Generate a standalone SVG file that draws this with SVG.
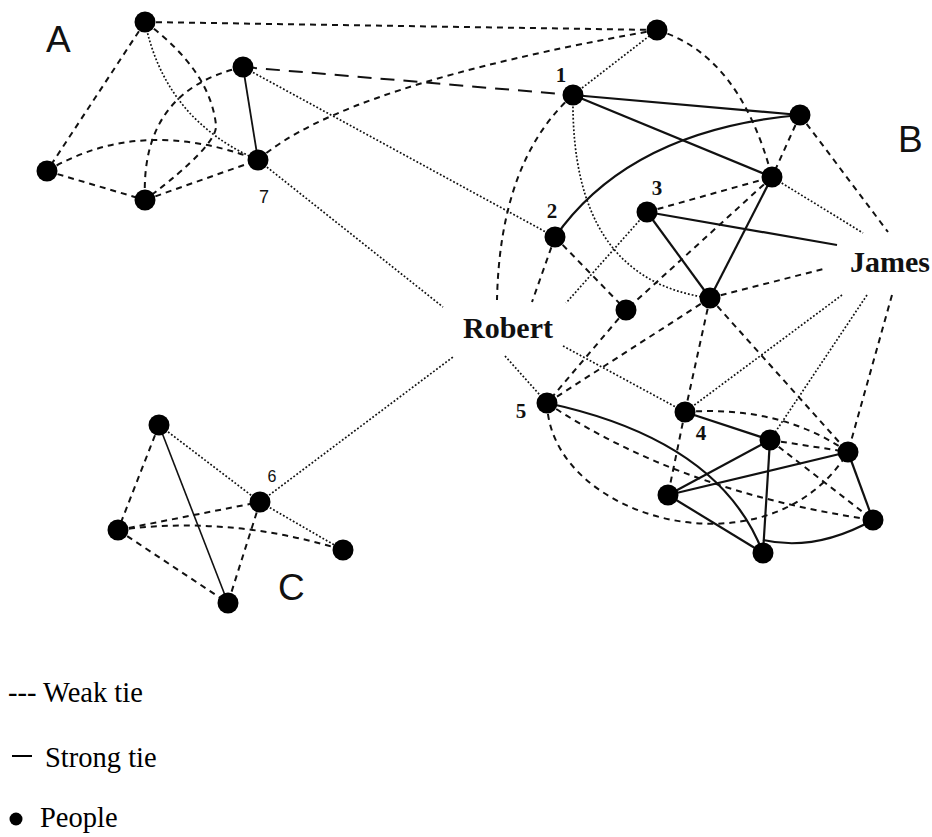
<svg xmlns="http://www.w3.org/2000/svg" width="932" height="837" viewBox="0 0 932 837">
  <style>
    .w { fill: none; stroke: #111; stroke-width: 2; stroke-dasharray: 6 5; }
    .s { fill: none; stroke: #111; stroke-width: 2.2; }
    .d { fill: none; stroke: #111; stroke-width: 1.7; stroke-dasharray: 1.8 2; }
    .l { fill: none; stroke: #111; stroke-width: 2; stroke-dasharray: 14 9; }
    .node circle { fill: #000; }
    .num { font-family: "Liberation Serif", "Times New Roman", serif; font-weight: bold; font-size: 21px; text-anchor: middle; fill: #111; }
    .numsans { font-family: "Liberation Sans", Arial, sans-serif; font-size: 18px; text-anchor: middle; fill: #111; }
    .name { font-family: "Liberation Serif", "Times New Roman", serif; font-weight: bold; font-size: 30px; fill: #111; }
    .group { font-family: "Liberation Sans", Arial, sans-serif; font-size: 37px; fill: #111; }
    .legend { font-family: "Liberation Serif", "Times New Roman", serif; font-size: 28.5px; fill: #000; }
  </style>
  <rect width="932" height="837" fill="#fff"/>

  <!-- ties between people -->
  <g id="connectors">
    <!-- cluster A -->
    <line class="w" x1="145" y1="22" x2="47" y2="171"/>
    <line class="w" x1="145" y1="22" x2="657" y2="30"/>
    <path class="d" d="M145,22 Q165,120 258,160"/>
    <path class="w" d="M145,22 Q210,70 216,125 Q218,145 145,200"/>
    <path class="w" d="M243,67 Q140,90 145,200"/>
    <line class="s" x1="243" y1="67" x2="258" y2="160" style="stroke-width:1.8"/>
    <line class="l" x1="243" y1="67" x2="573" y2="95"/>
    <line class="d" x1="243" y1="67" x2="555" y2="237"/>
    <line class="w" x1="47" y1="171" x2="145" y2="200"/>
    <path class="w" d="M47,171 Q140,115 258,160"/>
    <line class="w" x1="145" y1="200" x2="258" y2="160"/>
    <path class="w" d="M258,160 Q343,85 657,30"/>
    <line class="d" x1="258" y1="160" x2="443" y2="307"/>

    <!-- cluster B, upper part -->
    <line class="d" x1="573" y1="95" x2="657" y2="30"/>
    <path class="w" d="M657,30 Q740,55 772,177"/>
    <line class="s" x1="573" y1="95" x2="800" y2="115"/>
    <line class="s" x1="573" y1="95" x2="772" y2="177"/>
    <path class="d" d="M573,95 Q570,280 710,298"/>
    <path class="w" d="M573,95 Q500,160 497,300"/>
    <path class="s" d="M555,237 Q630,130 800,115"/>
    <line class="w" x1="800" y1="115" x2="772" y2="177"/>
    <line class="w" x1="800" y1="115" x2="888" y2="232"/>
    <line class="d" x1="772" y1="177" x2="863" y2="233"/>
    <line class="s" x1="772" y1="177" x2="710" y2="298"/>
    <line class="w" x1="647" y1="212" x2="772" y2="177"/>
    <line class="w" x1="772" y1="177" x2="626" y2="310"/>
    <line class="s" x1="647" y1="212" x2="710" y2="298"/>
    <line class="s" x1="647" y1="212" x2="837" y2="245"/>
    <line class="d" x1="647" y1="212" x2="566" y2="303"/>
    <line class="w" x1="555" y1="237" x2="532" y2="302"/>
    <line class="w" x1="555" y1="237" x2="626" y2="310"/>
    <line class="w" x1="710" y1="298" x2="827" y2="268"/>
    <line class="w" x1="710" y1="298" x2="685" y2="412"/>
    <line class="w" x1="710" y1="298" x2="547" y2="403"/>
    <line class="w" x1="710" y1="298" x2="848" y2="452"/>
    <line class="w" x1="626" y1="310" x2="547" y2="403"/>

    <!-- ties reaching Robert and James -->
    <line class="d" x1="505" y1="356" x2="547" y2="403"/>
    <line class="d" x1="563" y1="346" x2="685" y2="412"/>
    <line class="d" x1="842" y1="295" x2="685" y2="412"/>
    <line class="d" x1="867" y1="295" x2="770" y2="440"/>
    <line class="w" x1="892" y1="295" x2="848" y2="452"/>

    <!-- cluster B, lower part -->
    <path class="s" d="M547,403 Q720,440 763,553"/>
    <path class="w" d="M547,403 C550,520 770,580 848,452"/>
    <path class="w" d="M547,403 Q680,492 873,520"/>
    <line class="s" x1="685" y1="412" x2="770" y2="440"/>
    <path class="w" d="M685,412 Q780,405 848,452"/>
    <line class="w" x1="685" y1="412" x2="668" y2="495"/>
    <line class="w" x1="770" y1="440" x2="848" y2="452"/>
    <line class="s" x1="770" y1="440" x2="668" y2="495"/>
    <line class="s" x1="770" y1="440" x2="763" y2="553"/>
    <line class="w" x1="770" y1="440" x2="873" y2="520"/>
    <line class="s" x1="848" y1="452" x2="668" y2="495"/>
    <line class="s" x1="848" y1="452" x2="873" y2="520"/>
    <line class="s" x1="668" y1="495" x2="763" y2="553"/>
    <path class="s" d="M763,540 Q815,552 873,520"/>

    <!-- cluster C -->
    <line class="w" x1="159" y1="425" x2="118" y2="530"/>
    <line class="d" x1="159" y1="425" x2="260" y2="502"/>
    <line class="s" x1="159" y1="425" x2="228" y2="603" style="stroke-width:1.6"/>
    <line class="w" x1="118" y1="530" x2="260" y2="502"/>
    <path class="w" d="M118,530 Q230,515 343,550"/>
    <line class="w" x1="118" y1="530" x2="228" y2="603"/>
    <line class="d" x1="260" y1="502" x2="343" y2="550"/>
    <line class="w" x1="260" y1="502" x2="228" y2="603"/>
    <line class="d" x1="260" y1="502" x2="453" y2="357"/>
  </g>

  <!-- people -->
  <g id="a1" class="node"><circle cx="145" cy="22" r="10.5"/></g>
  <g id="a2" class="node"><circle cx="243" cy="67" r="10.5"/></g>
  <g id="a7" class="node"><circle cx="258" cy="160" r="10.5"/><text class="numsans" x="264" y="203">7</text></g>
  <g id="a3" class="node"><circle cx="47" cy="171" r="10.5"/></g>
  <g id="a4" class="node"><circle cx="145" cy="200" r="10.5"/></g>

  <g id="b-top" class="node"><circle cx="657" cy="30" r="10.5"/></g>
  <g id="b1" class="node"><circle cx="573" cy="95" r="10.5"/><text class="num" x="561" y="82">1</text></g>
  <g id="b-right" class="node"><circle cx="800" cy="115" r="10.5"/></g>
  <g id="b-hub" class="node"><circle cx="772" cy="177" r="10.5"/></g>
  <g id="b3" class="node"><circle cx="647" cy="212" r="10.5"/><text class="num" x="657" y="195">3</text></g>
  <g id="b2" class="node"><circle cx="555" cy="237" r="10.5"/><text class="num" x="552" y="218">2</text></g>
  <g id="b-small" class="node"><circle cx="626" cy="310" r="10.5"/></g>
  <g id="b-center" class="node"><circle cx="710" cy="298" r="10.5"/></g>
  <g id="b5" class="node"><circle cx="547" cy="403" r="10.5"/><text class="num" x="521" y="418">5</text></g>
  <g id="b4" class="node"><circle cx="685" cy="412" r="10.5"/><text class="num" x="701" y="440">4</text></g>
  <g id="b-m" class="node"><circle cx="770" cy="440" r="10.5"/></g>
  <g id="b-p" class="node"><circle cx="848" cy="452" r="10.5"/></g>
  <g id="b-l" class="node"><circle cx="668" cy="495" r="10.5"/></g>
  <g id="b-q" class="node"><circle cx="873" cy="520" r="10.5"/></g>
  <g id="b-s" class="node"><circle cx="763" cy="553" r="10.5"/></g>

  <g id="c1" class="node"><circle cx="159" cy="425" r="10.5"/></g>
  <g id="c6" class="node"><circle cx="260" cy="502" r="10.5"/><text class="numsans" x="272" y="482" style="font-size:16px">6</text></g>
  <g id="c2" class="node"><circle cx="118" cy="530" r="10.5"/></g>
  <g id="c3" class="node"><circle cx="343" cy="550" r="10.5"/></g>
  <g id="c4" class="node"><circle cx="228" cy="603" r="10.5"/></g>

  <g id="robert"><text class="name" x="463" y="338">Robert</text></g>
  <g id="james"><text class="name" x="850" y="272">James</text></g>

  <!-- cluster letters -->
  <text class="group" x="46" y="52">A</text>
  <text class="group" x="898" y="152">B</text>
  <text class="group" x="278" y="600">C</text>

  <!-- legend -->
  <g id="legend">
    <text class="legend" x="8" y="702">--- Weak tie</text>
    <line x1="12" y1="756" x2="32" y2="756" stroke="#000" stroke-width="2"/>
    <text class="legend" x="45" y="767">Strong tie</text>
    <circle cx="16" cy="819" r="6.5" fill="#000"/>
    <text class="legend" x="40" y="827">People</text>
  </g>
</svg>
